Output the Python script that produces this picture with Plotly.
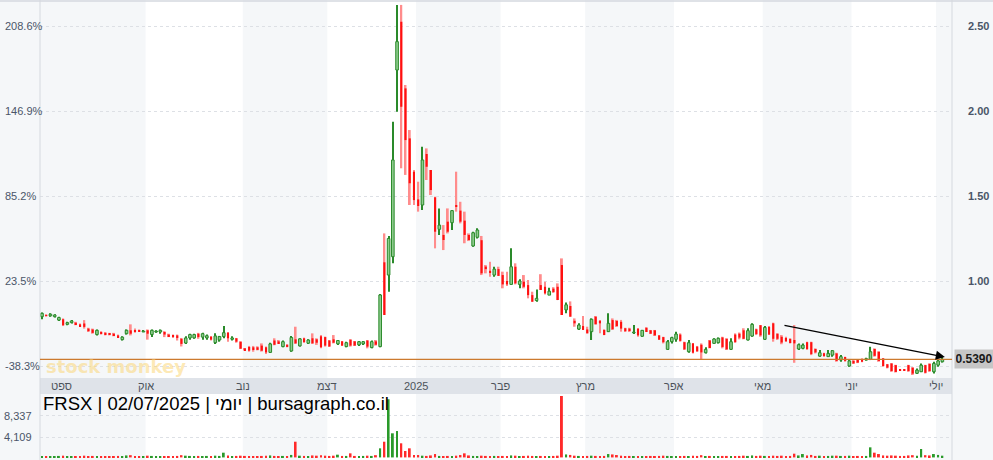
import plotly.graph_objects as go

# ---------------- data ----------------
opens = [
    0.79, 0.80, 0.795, 0.79, 0.77, 0.775, 0.745, 0.755, 0.755, 0.745,
    0.75, 0.72, 0.715, 0.685, 0.70, 0.695, 0.69, 0.69, 0.68, 0.655,
    0.69, 0.71, 0.71, 0.71, 0.70, 0.71, 0.685, 0.70, 0.70, 0.70,
    0.685, 0.68, 0.68, 0.66, 0.635, 0.665, 0.665, 0.69, 0.67, 0.665,
    0.673, 0.637, 0.653, 0.673, 0.696, 0.657, 0.663, 0.643, 0.604, 0.612,
    0.61, 0.61, 0.62, 0.61, 0.58, 0.65, 0.645, 0.614, 0.625, 0.588,
    0.657, 0.618, 0.663, 0.634, 0.663, 0.657, 0.675, 0.67, 0.65, 0.657,
    0.63, 0.645, 0.614, 0.655, 0.645, 0.624, 0.63, 0.65, 0.608, 0.645,
    0.614, 1.11, 1.035, 1.143, 2.241, 2.525, 2.133, 1.839, 1.643, 1.480,
    1.447, 1.747, 1.653, 1.492, 1.304, 1.271, 1.349, 1.343, 1.447, 1.414,
    1.355, 1.271, 1.206, 1.257, 1.24, 1.085, 1.06, 1.035, 1.07, 1.035,
    1.0, 0.98, 1.084, 0.98, 0.996, 0.976, 0.917, 0.885, 0.976, 0.966,
    0.917, 0.955, 0.966, 1.094, 0.83, 0.853, 0.766, 0.717, 0.735, 0.715,
    0.702, 0.79, 0.766, 0.712, 0.702, 0.77, 0.765, 0.76, 0.722, 0.72,
    0.695, 0.72, 0.675, 0.725, 0.71, 0.71, 0.68, 0.67, 0.598, 0.643,
    0.657, 0.685, 0.64, 0.584, 0.633, 0.614, 0.625, 0.578, 0.65, 0.633,
    0.637, 0.668, 0.66, 0.598, 0.685, 0.69, 0.71, 0.653, 0.676, 0.716,
    0.74, 0.657, 0.73, 0.751, 0.69, 0.672, 0.665, 0.66, 0.653, 0.60,
    0.604, 0.64, 0.64, 0.60, 0.558, 0.575, 0.555, 0.564, 0.574, 0.535,
    0.553, 0.50, 0.53, 0.535, 0.54, 0.535, 0.539, 0.60, 0.584, 0.545,
    0.51, 0.515, 0.505, 0.481, 0.481, 0.505, 0.49, 0.457, 0.466, 0.505,
    0.513, 0.466, 0.505, 0.525,
]
highs = [
    0.815, 0.805, 0.81, 0.805, 0.79, 0.78, 0.76, 0.77, 0.76, 0.75,
    0.77, 0.725, 0.72, 0.715, 0.705, 0.70, 0.695, 0.695, 0.685, 0.675,
    0.715, 0.745, 0.72, 0.715, 0.71, 0.715, 0.715, 0.71, 0.715, 0.705,
    0.69, 0.685, 0.685, 0.665, 0.675, 0.69, 0.69, 0.695, 0.695, 0.685,
    0.675, 0.692, 0.677, 0.735, 0.70, 0.675, 0.665, 0.645, 0.606, 0.618,
    0.618, 0.616, 0.633, 0.614, 0.637, 0.663, 0.653, 0.65, 0.628, 0.677,
    0.731, 0.663, 0.667, 0.657, 0.692, 0.663, 0.682, 0.673, 0.653, 0.682,
    0.653, 0.647, 0.643, 0.657, 0.647, 0.647, 0.647, 0.653, 0.65, 0.653,
    0.924, 1.28, 1.265, 1.937, 2.624, 2.624, 2.153, 1.888, 1.653, 1.584,
    1.790, 1.780, 1.653, 1.496, 1.427, 1.329, 1.427, 1.418, 1.643, 1.466,
    1.408, 1.280, 1.290, 1.31, 1.265, 1.094, 1.113, 1.084, 1.084, 1.055,
    1.055, 1.192, 1.104, 1.01, 1.035, 1.006, 0.937, 0.95, 1.04, 0.996,
    0.96, 0.964, 0.986, 1.133, 0.874, 0.88, 0.78, 0.751, 0.794, 0.731,
    0.78, 0.794, 0.77, 0.716, 0.81, 0.78, 0.771, 0.771, 0.725, 0.725,
    0.741, 0.722, 0.712, 0.728, 0.712, 0.712, 0.682, 0.672, 0.653, 0.672,
    0.702, 0.692, 0.643, 0.653, 0.636, 0.618, 0.633, 0.61, 0.653, 0.663,
    0.668, 0.672, 0.663, 0.663, 0.692, 0.697, 0.722, 0.722, 0.751, 0.72,
    0.741, 0.735, 0.735, 0.755, 0.692, 0.682, 0.672, 0.662, 0.741, 0.633,
    0.633, 0.643, 0.643, 0.604, 0.594, 0.578, 0.594, 0.594, 0.578, 0.564,
    0.555, 0.535, 0.535, 0.537, 0.545, 0.548, 0.613, 0.604, 0.586, 0.547,
    0.512, 0.517, 0.507, 0.482, 0.482, 0.507, 0.493, 0.486, 0.515, 0.507,
    0.515, 0.525, 0.535, 0.555,
]
lows = [
    0.775, 0.79, 0.79, 0.785, 0.765, 0.735, 0.74, 0.75, 0.74, 0.73,
    0.72, 0.70, 0.69, 0.68, 0.685, 0.68, 0.68, 0.675, 0.665, 0.65,
    0.685, 0.68, 0.695, 0.70, 0.70, 0.655, 0.67, 0.695, 0.69, 0.67,
    0.67, 0.665, 0.65, 0.615, 0.63, 0.655, 0.66, 0.66, 0.655, 0.655,
    0.65, 0.63, 0.643, 0.663, 0.643, 0.65, 0.637, 0.60, 0.592, 0.584,
    0.584, 0.592, 0.585, 0.571, 0.578, 0.622, 0.63, 0.61, 0.61, 0.584,
    0.63, 0.614, 0.637, 0.63, 0.63, 0.624, 0.604, 0.614, 0.612, 0.633,
    0.624, 0.618, 0.61, 0.614, 0.618, 0.618, 0.624, 0.604, 0.604, 0.62,
    0.61, 0.80, 0.937, 1.104, 1.996, 1.663, 1.624, 1.447, 1.447, 1.408,
    1.418, 1.594, 1.506, 1.192, 1.271, 1.182, 1.280, 1.300, 1.408, 1.339,
    1.222, 1.235, 1.202, 1.25, 1.035, 1.045, 1.025, 1.025, 1.03, 0.957,
    0.97, 0.98, 0.98, 0.957, 0.957, 0.898, 0.878, 0.878, 0.947, 0.92,
    0.917, 0.93, 0.888, 0.80, 0.81, 0.79, 0.731, 0.712, 0.712, 0.692,
    0.653, 0.745, 0.692, 0.682, 0.70, 0.712, 0.73, 0.702, 0.70, 0.70,
    0.688, 0.672, 0.672, 0.70, 0.688, 0.677, 0.653, 0.633, 0.594, 0.633,
    0.643, 0.643, 0.594, 0.578, 0.574, 0.584, 0.541, 0.574, 0.604, 0.633,
    0.633, 0.604, 0.594, 0.594, 0.637, 0.657, 0.657, 0.65, 0.672, 0.682,
    0.672, 0.653, 0.682, 0.643, 0.653, 0.628, 0.643, 0.633, 0.519, 0.594,
    0.598, 0.594, 0.564, 0.574, 0.555, 0.555, 0.555, 0.555, 0.525, 0.525,
    0.525, 0.496, 0.512, 0.517, 0.522, 0.532, 0.535, 0.555, 0.525, 0.496,
    0.486, 0.466, 0.462, 0.473, 0.473, 0.466, 0.447, 0.453, 0.464, 0.456,
    0.466, 0.456, 0.496, 0.52,
]
closes = [
    0.81, 0.795, 0.805, 0.80, 0.785, 0.74, 0.755, 0.765, 0.745, 0.735,
    0.73, 0.705, 0.695, 0.71, 0.69, 0.685, 0.685, 0.68, 0.67, 0.67,
    0.71, 0.69, 0.70, 0.705, 0.705, 0.69, 0.71, 0.705, 0.71, 0.685,
    0.675, 0.675, 0.665, 0.63, 0.665, 0.685, 0.685, 0.67, 0.69, 0.678,
    0.655, 0.677, 0.673, 0.696, 0.663, 0.665, 0.643, 0.602, 0.594, 0.59,
    0.594, 0.595, 0.59, 0.58, 0.63, 0.625, 0.635, 0.643, 0.612, 0.668,
    0.633, 0.66, 0.64, 0.653, 0.633, 0.637, 0.61, 0.62, 0.615, 0.637,
    0.65, 0.62, 0.637, 0.62, 0.62, 0.643, 0.643, 0.614, 0.643, 0.625,
    0.918, 0.80, 1.25, 1.712, 2.408, 2.025, 1.829, 1.575, 1.476, 1.441,
    1.712, 1.672, 1.535, 1.290, 1.329, 1.241, 1.290, 1.414, 1.437, 1.349,
    1.271, 1.241, 1.284, 1.30, 1.045, 1.07, 1.05, 1.07, 1.03, 0.98,
    0.98, 1.084, 0.986, 1.0, 0.966, 0.917, 0.878, 0.898, 0.947, 0.927,
    0.94, 0.935, 0.888, 0.80, 0.86, 0.79, 0.751, 0.741, 0.712, 0.692,
    0.775, 0.745, 0.751, 0.682, 0.751, 0.716, 0.735, 0.72, 0.705, 0.71,
    0.70, 0.68, 0.71, 0.70, 0.69, 0.68, 0.655, 0.64, 0.643, 0.667,
    0.688, 0.648, 0.598, 0.637, 0.578, 0.586, 0.58, 0.598, 0.606, 0.659,
    0.663, 0.612, 0.598, 0.643, 0.64, 0.667, 0.66, 0.708, 0.745, 0.688,
    0.68, 0.727, 0.685, 0.66, 0.66, 0.638, 0.645, 0.635, 0.633, 0.625,
    0.623, 0.60, 0.57, 0.58, 0.578, 0.558, 0.574, 0.59, 0.53, 0.555,
    0.53, 0.53, 0.515, 0.52, 0.525, 0.543, 0.584, 0.56, 0.53, 0.50,
    0.49, 0.47, 0.465, 0.475, 0.475, 0.47, 0.455, 0.476, 0.505, 0.46,
    0.47, 0.515, 0.53, 0.539,
]
volumes = [
    300, 250, 200, 250, 300, 350, 250, 200, 250, 300,
    350, 250, 300, 250, 200, 250, 200, 250, 300, 250,
    400, 450, 300, 250, 200, 350, 300, 250, 200, 250,
    250, 200, 300, 450, 350, 300, 250, 300, 250, 300,
    250, 350, 300, 950, 400, 250, 300, 350, 300, 250,
    250, 200, 300, 350, 400, 300, 250, 300, 250, 500,
    3160, 350, 300, 250, 400, 350, 450, 350, 300, 350,
    550, 300, 300, 820, 300, 250, 300, 350, 300, 450,
    1830, 3160, 11700, 4850, 5310, 2840, 1290, 1830, 480, 480,
    350, 300, 400, 680, 300, 250, 300, 250, 350, 480,
    820, 400, 300, 250, 350, 300, 250, 300, 250, 300,
    250, 400, 350, 250, 300, 350, 300, 250, 300, 250,
    250, 300, 350, 12360, 600, 500, 350, 300, 250, 300,
    350, 300, 250, 300, 680, 600, 480, 350, 250, 300,
    250, 300, 250, 250, 300, 250, 300, 350, 300, 250,
    300, 250, 300, 250, 350, 300, 450, 250, 300, 250,
    250, 300, 300, 250, 250, 300, 350, 300, 400, 300,
    350, 300, 300, 350, 300, 350, 300, 300, 750, 400,
    680, 400, 500, 300, 350, 300, 300, 350, 350, 300,
    300, 350, 250, 300, 250, 300, 2030, 950, 680, 400,
    350, 400, 350, 300, 300, 400, 450, 350, 1690, 450,
    400, 680, 500, 350,
]
month_labels = ["ספט", "אוק", "נוב", "דצמ", "2025", "פבר", "מרץ", "אפר", "מאי", "יוני", "יולי"]
month_trading_days = [5, 20, 23, 20, 21, 20, 20, 21, 21, 21, 20, 2]  # Aug(part) .. Jul(part)
base_price = 0.81
price_ticks = [0.5, 1.0, 1.5, 2.0, 2.5]
volume_ticks = [4109, 8337]
trend_x = [175.3, 213.6]
trend_y = [0.741, 0.553]
title_text = "FRSX | 02/07/2025 | יומי | bursagraph.co.il"
watermark_text = "stock monkey"

# ---------------- build ----------------
n = len(closes)
xs = list(range(n))
up = [c >= o for o, c in zip(opens, closes)]

GREEN_LINE = "#2a8a2a"
GREEN_FILL = "#8fcc8f"
RED_BODY = "#ff1010"
RED_WICK = "#ff8c8c"
GRAY_BG = "#f5f7f9"
TXT = "#4a5568"

def pick(vals, cond):
    return [v for v, k in zip(vals, cond) if k]

dn = [not u for u in up]
fig = go.Figure()

# wicks
for cond, col, w in ((up, GREEN_LINE, 0.26), (dn, RED_WICK, 0.45)):
    fig.add_trace(go.Bar(
        x=pick(xs, cond), base=pick(lows, cond),
        y=[h - l for h, l in zip(pick(highs, cond), pick(lows, cond))],
        width=w, marker=dict(color=col, line=dict(width=0)),
        xaxis="x", yaxis="y", hoverinfo="skip"))

# bodies
bo_base = [min(o, c) for o, c in zip(opens, closes)]
bo_h = [max(abs(c - o), 0.005) for o, c in zip(opens, closes)]
fig.add_trace(go.Bar(
    x=pick(xs, up), base=pick(bo_base, up), y=pick(bo_h, up), width=0.62,
    marker=dict(color=GREEN_FILL, line=dict(color=GREEN_LINE, width=1)),
    xaxis="x", yaxis="y", hoverinfo="skip"))
fig.add_trace(go.Bar(
    x=pick(xs, dn), base=pick(bo_base, dn), y=pick(bo_h, dn), width=0.5,
    marker=dict(color=RED_BODY, line=dict(width=0)),
    xaxis="x", yaxis="y", hoverinfo="skip"))

# volume
fig.add_trace(go.Bar(
    x=xs, y=volumes, width=0.45,
    marker=dict(color=["#2a9a2a" if u else "#ff2a2a" for u in up], line=dict(width=0)),
    xaxis="x2", yaxis="y2", hoverinfo="skip"))

# month boundaries (index positions)
bounds = []
acc = -0.5
for d in month_trading_days[:-1]:
    acc += d
    bounds.append(acc)

shapes = []
# white month bands (every other month)
for k in range(1, len(bounds) - 1, 2):
    shapes.append(dict(type="rect", xref="x", yref="paper", x0=bounds[k], x1=bounds[k + 1],
                       y0=0, y1=1, fillcolor="white", line=dict(width=0), layer="below"))
# label band
shapes.append(dict(type="rect", xref="paper", yref="paper", x0=0, x1=1, y0=66 / 460, y1=82 / 460,
                   fillcolor="#dfe3e9", line=dict(width=0), layer="below"))
# frame lines
shapes.append(dict(type="line", xref="paper", yref="paper", x0=0, x1=0, y0=0, y1=1,
                   line=dict(color="#d5d9df", width=1)))
shapes.append(dict(type="line", xref="paper", yref="paper", x0=1, x1=1, y0=0, y1=1,
                   line=dict(color="#d5d9df", width=1)))
shapes.append(dict(type="line", xref="paper", yref="paper", x0=-0.05, x1=1.05, y0=0.998, y1=0.998,
                   line=dict(color="#d5d9df", width=1.5)))
# last price line
shapes.append(dict(type="line", xref="paper", yref="y", x0=0, x1=1, y0=closes[-1], y1=closes[-1],
                   line=dict(color="#cc7a2e", width=1.3), layer="above"))

ann = []
def px2paper_x(px):
    return (px - 40) / 912.0

for p in price_ticks:
    pct = (p / base_price - 1) * 100
    ann.append(dict(x=px2paper_x(3), xref="paper", y=p, yref="y", xanchor="left", yanchor="middle",
                    text=f"{pct:.1f}%", showarrow=False, font=dict(size=11, color=TXT, family="Liberation Sans")))
    if p > 0.6:
        ann.append(dict(x=px2paper_x(991), xref="paper", y=p, yref="y", xanchor="right", yanchor="middle",
                        text=f"<b>{p:.2f}</b>", showarrow=False,
                        font=dict(size=11, color=TXT, family="Liberation Sans")))
for v in volume_ticks:
    ann.append(dict(x=px2paper_x(2), xref="paper", y=v, yref="y2", xanchor="left", yanchor="middle",
                    text=f"{v:,}", showarrow=False, font=dict(size=11, color=TXT, family="Liberation Sans")))
for lab, b in zip(month_labels, bounds):
    ann.append(dict(x=b, xref="x", y=74 / 460, yref="paper", xanchor="center", yanchor="middle",
                    text=lab, showarrow=False, font=dict(size=11, color="#4d535b", family="Liberation Sans")))
# last price box
ann.append(dict(x=px2paper_x(954), xref="paper", y=closes[-1], yref="y", xanchor="left", yanchor="middle",
                text=f"<b>{closes[-1]:.4f}</b>", showarrow=False, bgcolor="#c6c6c6", width=36, height=16,
                borderpad=1, font=dict(size=12, color="#1a1a1a", family="Liberation Sans")))
# title text
ann.append(dict(x=px2paper_x(41), xref="paper", y=57 / 460, yref="paper", xanchor="left", yanchor="middle",
                text=title_text, showarrow=False, font=dict(size=18.5, color="black", family="Liberation Sans")))
# watermark
ann.append(dict(x=px2paper_x(116), xref="paper", y=0.495, yref="y", xanchor="center", yanchor="middle",
                text=f"<b>{watermark_text}</b>", showarrow=False,
                font=dict(size=18, color="rgba(252,212,110,0.5)", family="DejaVu Sans")))
# trend arrow
ann.append(dict(x=trend_x[1], y=trend_y[1], xref="x", yref="y", ax=trend_x[0], ay=trend_y[0],
                axref="x", ayref="y", text="", showarrow=True, arrowhead=2, arrowsize=1.4,
                arrowwidth=1.3, arrowcolor="black", standoff=0))

xr = [(40 - 42) / 4.227, (952 - 42) / 4.227]
fig.update_layout(
    width=993, height=460, margin=dict(l=40, r=41, t=0, b=0),
    paper_bgcolor=GRAY_BG, plot_bgcolor="rgba(0,0,0,0)",
    showlegend=False, barmode="overlay", hovermode=False,
    xaxis=dict(domain=[0, 1], range=xr, visible=False, anchor="y"),
    xaxis2=dict(domain=[0, 1], range=xr, visible=False, anchor="y2", matches="x"),
    yaxis=dict(domain=[82 / 460, 1], range=[0.5 - 12 / 170, 0.5 + 366 / 170], tickvals=price_ticks,
               showticklabels=False, showgrid=True, gridcolor="#dde0e5", griddash="dot",
               zeroline=False, showline=False, side="right"),
    yaxis2=dict(domain=[0, 65 / 460], range=[-520, 12560], tickvals=volume_ticks,
                showticklabels=False, showgrid=True, gridcolor="#dde0e5", griddash="dot",
                zeroline=False, showline=False),
    shapes=shapes, annotations=ann,
)
fig.write_html(
    "out.html",
    config={"displayModeBar": False},
    post_script="document.body.style.margin='0';document.body.style.padding='0';"
                "document.body.style.overflow='hidden';window.dispatchEvent(new Event('resize'));",
)
